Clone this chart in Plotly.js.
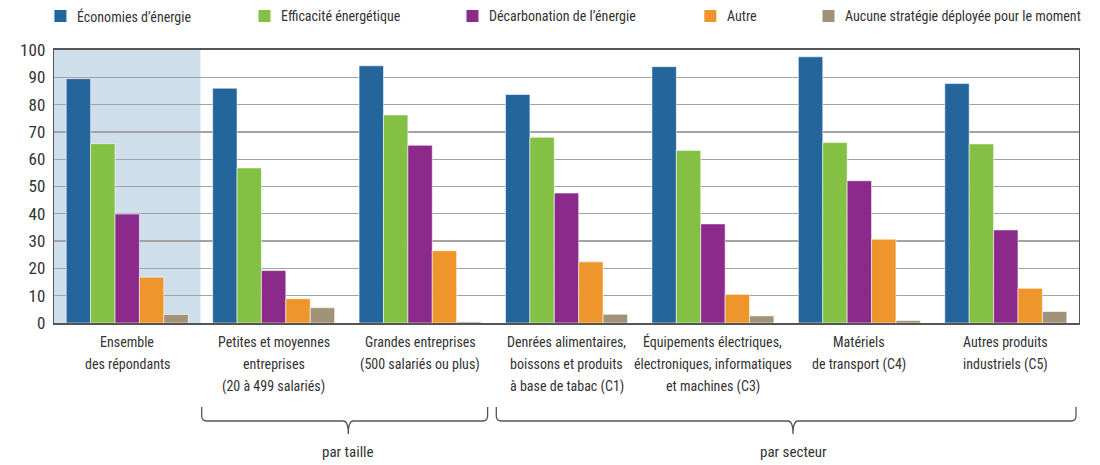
<!DOCTYPE html>
<html><head><meta charset="utf-8">
<script src="https://cdn.plot.ly/plotly-3.0.1.min.js"></script>
<style>html,body{margin:0;padding:0;background:#fff}#chart{width:1100px;height:465px}</style>
</head><body><div id="chart"></div>
<script>
// ---- data ----
const categories = [
  "Ensemble<br>des répondants",
  "Petites et moyennes<br>entreprises<br>(20 à 499 salariés)",
  "Grandes entreprises<br>(500 salariés ou plus)",
  "Denrées alimentaires,<br>boissons et produits<br>à base de tabac (C1)",
  "Équipements électriques,<br>électroniques, informatiques<br>et machines (C3)",
  "Matériels<br>de transport (C4)",
  "Autres produits<br>industriels (C5)"
];
const seriesNames = [
  "Économies d’énergie",
  "Efficacité énergétique",
  "Décarbonation de l’énergie",
  "Autre",
  "Aucune stratégie déployée pour le moment"
];
const economies     = [89.5, 86.0, 94.2, 83.7, 93.9, 97.5, 87.7];
const efficacite    = [65.7, 56.8, 76.2, 68.0, 63.2, 66.1, 65.6];
const decarbonation = [39.9, 19.2, 65.1, 47.6, 36.3, 52.1, 34.1];
const autre         = [16.8,  8.9, 26.5, 22.4, 10.5, 30.7, 12.7];
const aucune        = [ 3.1,  5.6,  0.4,  3.2,  2.6,  0.9,  4.2];
const groupLabels   = ["par taille", "par secteur"];
const yTickVals     = [0, 10, 20, 30, 40, 50, 60, 70, 80, 90, 100];

// ---- styling ----
const colors = ["#24659b", "#84c044", "#8b2a8a", "#ee962b", "#a09377"];
const FONT = '"Liberation Sans Narrow", "Arial Narrow", "Roboto Condensed", "DejaVu Sans Condensed", sans-serif';
const TXT = "#333333";
const L = 54, R = 21, T = 50, B = 142, W = 1100, H = 465;
const pw = W - L - R, ph = H - T - B;
const px = x => (x - L) / pw;
const py = y => (H - B - y) / ph;

const values = [economies, efficacite, decarbonation, autre, aucune];
const traces = values.map((v, i) => ({
  type: "bar", x: categories, y: v, name: seriesNames[i],
  marker: {color: colors[i], line: {color: "rgba(255,255,255,0.55)", width: 1}},
  showlegend: false, hoverinfo: "y+name"
}));

const shapes = [];
const annotations = [];
// shaded "Ensemble" background
shapes.push({type: "rect", xref: "x", yref: "paper", x0: -0.5, x1: 0.5, y0: 0, y1: 1,
  fillcolor: "#cfdeeb", line: {width: 0}, layer: "below"});

// category labels, one line at a time (reference line spacing)
const lineY = [341.7, 364.2, 386.7];
categories.forEach((c, i) => {
  c.split("<br>").forEach((ln, j) => {
    annotations.push({xref: "x", yref: "paper", x: i, y: py(lineY[j]),
      xanchor: "center", yanchor: "middle", text: ln, showarrow: false,
      font: {family: FONT, size: 14, color: TXT}});
  });
});

// manual legend
const legSq = [54.4, 258.5, 466.5, 704.3, 822.5];
seriesNames.forEach((n, i) => {
  shapes.push({type: "rect", xref: "paper", yref: "paper",
    x0: px(legSq[i]), x1: px(legSq[i] + 12), y0: py(22), y1: py(10),
    fillcolor: colors[i], line: {width: 0}});
  annotations.push({xref: "paper", yref: "paper", x: px(legSq[i] + 20.5), y: py(16),
    xanchor: "left", yanchor: "middle", text: n, showarrow: false,
    font: {family: FONT, size: 14, color: TXT}});
});

// braces
function brace(xL, xR, xc) {
  const yt = 407, yl = 421, yb = 434, r = 5;
  const P = (x, y) => px(x).toFixed(5) + "," + py(y).toFixed(5);
  return "M" + P(xL, yt) + " L" + P(xL, yl - r) + " Q" + P(xL, yl) + " " + P(xL + r, yl) +
    " L" + P(xc - r, yl) + " Q" + P(xc, yl) + " " + P(xc, yb) +
    " Q" + P(xc, yl) + " " + P(xc + r, yl) +
    " L" + P(xR - r, yl) + " Q" + P(xR, yl) + " " + P(xR, yl - r) + " L" + P(xR, yt);
}
const braces = [[201.7, 487.6, 348.3], [496.3, 1076, 793]];
braces.forEach((b, i) => {
  shapes.push({type: "path", xref: "paper", yref: "paper", path: brace(b[0], b[1], b[2]),
    line: {color: "#555555", width: 1.3}});
  annotations.push({xref: "paper", yref: "paper", x: px(b[2]), y: py(451.5),
    xanchor: "center", yanchor: "middle", text: groupLabels[i], showarrow: false,
    font: {family: FONT, size: 15, color: TXT}});
});

const layout = {
  width: W, height: H,
  margin: {l: L, r: R, t: T, b: B, pad: 0},
  paper_bgcolor: "#ffffff", plot_bgcolor: "rgba(0,0,0,0)",
  barmode: "group", bargap: 0.167, bargroupgap: 0,
  font: {family: FONT, color: TXT},
  showlegend: false,
  xaxis: {
    type: "category", showline: true, linecolor: "#555555", linewidth: 2, mirror: true,
    ticks: "", showticklabels: false, showgrid: false, fixedrange: true
  },
  yaxis: {
    range: [0, 100], tickvals: yTickVals, showgrid: true, gridcolor: "#a3a3a3", gridwidth: 1.3,
    showline: true, linecolor: "#555555", linewidth: 1.3, mirror: true, zeroline: false,
    ticks: "", tickfont: {family: FONT, size: 17, color: TXT}, ticklabelstandoff: 4,
    fixedrange: true
  },
  shapes: shapes, annotations: annotations
};
Plotly.newPlot("chart", traces, layout, {displayModeBar: false, staticPlot: true});
</script>
</body></html>
